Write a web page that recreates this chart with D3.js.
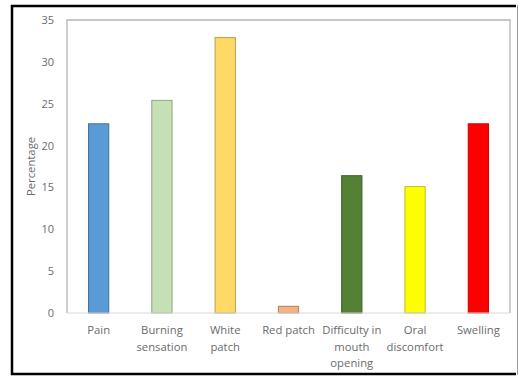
<!DOCTYPE html>
<html>
<head>
<meta charset="utf-8">
<script src="https://cdn.jsdelivr.net/npm/d3@7"></script>
<style>
  html, body { margin: 0; padding: 0; background: #fff; }
  svg { display: block; }
  text { font-family: "Open Sans", "Noto Sans", sans-serif; }
</style>
</head>
<body>
<svg id="chart" width="519" height="377"></svg>
<script>
// Symptoms reported, as a share of patients (%)
const categories = [
  ["Pain"],
  ["Burning", "sensation"],
  ["White", "patch"],
  ["Red patch"],
  ["Difficulty in", "mouth", "opening"],
  ["Oral", "discomfort"],
  ["Swelling"]
];
const values = [22.6, 25.4, 32.9, 0.8, 16.4, 15.1, 22.6];
const yTicks = [0, 5, 10, 15, 20, 25, 30, 35];

const fills   = ["#5B9BD5", "#C5E0B4", "#FFD966", "#F4B183", "#548235", "#FFFF00", "#FF0000"];
const strokes = ["#41719C", "#8CA97F", "#BC9C46", "#B57F57", "#3A5B24", "#BDBD2A", "#D00000"];

const svg = d3.select("#chart");
const W = 519, H = 377;
const plot = { left: 67, right: 510, top: 20, bottom: 313 };

// outer frame
svg.append("rect").attr("x", 0).attr("y", 0).attr("width", W).attr("height", H).attr("fill", "#fff");
svg.append("path")
  .attr("d", `M516,6 H12 V374 H516`)
  .attr("fill", "none").attr("stroke", "#000").attr("stroke-width", 2.5);
svg.append("line").attr("x1", 517.5).attr("x2", 517.5).attr("y1", 5).attr("y2", 375)
  .attr("stroke", "#9a9a9a").attr("stroke-width", 1);

const x = d3.scaleBand()
  .domain(d3.range(categories.length))
  .range([plot.left, plot.right])
  .paddingInner(0.68).paddingOuter(0.34);

const y = d3.scaleLinear().domain([0, 35]).range([plot.bottom, plot.top]);

// plot-area border (left, top, right)
svg.append("path")
  .attr("d", `M${plot.left},${plot.bottom} V${plot.top} H${plot.right} V${plot.bottom}`)
  .attr("fill", "none").attr("stroke", "#b5b5b5").attr("stroke-width", 1.3);

// bars
svg.append("g").selectAll("rect")
  .data(values)
  .join("rect")
  .attr("x", (d, i) => x(i))
  .attr("y", d => y(d))
  .attr("width", x.bandwidth())
  .attr("height", d => y(0) - y(d))
  .attr("fill", (d, i) => fills[i])
  .attr("stroke", (d, i) => strokes[i])
  .attr("stroke-width", 1);

// baseline
svg.append("line")
  .attr("x1", plot.left).attr("x2", plot.right)
  .attr("y1", y(0)).attr("y2", y(0))
  .attr("stroke", "#d9d9d9").attr("stroke-width", 1);

// y axis labels
const yAxis = d3.axisLeft(y).tickValues(yTicks).tickSize(0).tickPadding(13);
const gy = svg.append("g").attr("transform", `translate(${plot.left},0)`).call(yAxis);
gy.select(".domain").remove();
gy.selectAll("text")
  .attr("font-size", 11)
  .attr("fill", "#6b6b6b")
  .style("font-family", '"Open Sans", sans-serif');

// x axis labels (multi-line)
const xg = svg.append("g");
categories.forEach((lines, i) => {
  const t = xg.append("text")
    .attr("x", x(i) + x.bandwidth() / 2)
    .attr("y", 334)
    .attr("text-anchor", "middle")
    .attr("font-size", 11.3)
    .attr("fill", "#6b6b6b");
  lines.forEach((ln, j) => {
    t.append("tspan")
      .attr("x", x(i) + x.bandwidth() / 2)
      .attr("dy", j === 0 ? 0 : 16.5)
      .text(ln);
  });
});

// y axis title
svg.append("text")
  .attr("transform", `translate(35,${(plot.top + plot.bottom) / 2}) rotate(-90)`)
  .attr("text-anchor", "middle")
  .attr("font-size", 11.3)
  .attr("fill", "#6b6b6b")
  .text("Percentage");
</script>
</body>
</html>
